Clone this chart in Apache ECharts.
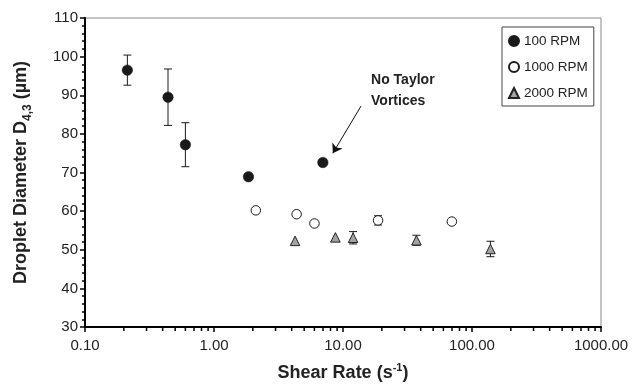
<!DOCTYPE html>
<html><head><meta charset="utf-8">
<script src="https://cdn.jsdelivr.net/npm/echarts@6/dist/echarts.min.js"></script>
<style>html,body{margin:0;padding:0;background:#fff}#c{width:632px;height:389px}</style>
</head><body><div id="c"></div>
<script>
// ---- data ----
const seriesNames = ['100 RPM', '1000 RPM', '2000 RPM'];

const rpm100Shear = [0.213, 0.44, 0.60, 1.85, 6.98];
const rpm100Diam  = [96.5, 89.5, 77.2, 68.9, 72.6];
const rpm100Err   = [3.9, 7.3, 5.7, 0, 0];

const rpm1000Shear = [2.11, 4.37, 6.01, 18.7, 69.8];
const rpm1000Diam  = [60.2, 59.2, 56.8, 57.6, 57.3];
const rpm1000Err   = [0, 0, 0, 1.2, 0];

const rpm2000Shear = [4.25, 8.73, 11.97, 37.1, 139];
const rpm2000Diam  = [52.3, 53.2, 53.1, 52.45, 50.2];
const rpm2000Err   = [0, 0, 1.6, 1.3, 2.0];

const xMin = 0.1, xMax = 1000;
const yMin = 30, yMax = 110, yInterval = 10;
const xMinorTickValues = [0.2,0.3,0.4,0.5,0.6,0.7,0.8,0.9,2,3,4,5,6,7,8,9,20,30,40,50,60,70,80,90,200,300,400,500,600,700,800,900];

const annotationText = 'No Taylor\nVortices';
const arrowFrom = [13.8, 87.2];
const arrowTo = [8.34, 75.0];
const annotationAnchor = [16.5, 91.2];

// ---- helpers ----
const FONT = 'Liberation Sans, Arial, Helvetica, sans-serif';
function pts(xs, ys) { return xs.map((x, i) => [x, ys[i]]); }
function errPts(xs, ys, es) { return xs.map((x, i) => [x, ys[i], es[i]]); }

function errRender(params, api) {
  const x = api.value(0), y = api.value(1), e = api.value(2);
  if (!e) return { type: 'group', children: [] };
  const t = api.coord([x, y + e]), b = api.coord([x, y - e]);
  const w = 4;
  const st = { stroke: '#1a1a1a', lineWidth: 1 };
  return { type: 'group', children: [
    { type: 'line', shape: { x1: t[0], y1: t[1], x2: b[0], y2: b[1] }, style: st },
    { type: 'line', shape: { x1: t[0] - w, y1: t[1], x2: t[0] + w, y2: t[1] }, style: st },
    { type: 'line', shape: { x1: b[0] - w, y1: b[1], x2: b[0] + w, y2: b[1] }, style: st }
  ]};
}
function minorTickRender(params, api) {
  const p = api.coord([api.value(0), yMin]);
  return { type: 'line', shape: { x1: p[0], y1: p[1], x2: p[0], y2: p[1] + 4 },
           style: { stroke: '#000', lineWidth: 1.5 } };
}

const chart = echarts.init(document.getElementById('c'), null, { renderer: 'canvas' });
chart.setOption({
  animation: false,
  backgroundColor: '#fff',
  textStyle: { fontFamily: FONT },
  grid: { left: 83, right: 31, top: 18, bottom: 61, show: true, borderColor: '#888', borderWidth: 1, backgroundColor: 'transparent' },
  legend: {
    data: seriesNames,
    orient: 'vertical',
    left: 502, top: 27,
    padding: [7, 6, 6, 6],
    itemGap: 12,
    itemWidth: 10, itemHeight: 10,
    borderColor: '#444', borderWidth: 1,
    textStyle: { fontSize: 13.5, color: '#222', fontFamily: FONT },
    selectedMode: false
  },
  xAxis: {
    type: 'log', logBase: 10, min: xMin, max: xMax,
    name: 'Shear Rate (s{sup|-1})',
    nameLocation: 'middle', nameGap: 35,
    nameTextStyle: {
      fontSize: 18, fontWeight: 'bold', color: '#222', fontFamily: FONT, lineHeight: 22,
      rich: { sup: { fontSize: 11, fontWeight: 'bold', color: '#222', verticalAlign: 'top', lineHeight: 22, fontFamily: FONT } }
    },
    axisLine: { show: true, onZero: false, lineStyle: { color: '#000', width: 2 } },
    axisTick: { show: true, length: 5, lineStyle: { color: '#000', width: 1.5 } },
    axisLabel: { fontSize: 15, color: '#222', margin: 11, formatter: v => Number(v).toFixed(2) },
    splitLine: { show: false }
  },
  yAxis: {
    type: 'value', min: yMin, max: yMax, interval: yInterval,
    name: 'Droplet Diameter D{sub|4,3} (µm)',
    nameLocation: 'middle', nameRotate: 90, nameGap: 51,
    nameTextStyle: {
      fontSize: 18, fontWeight: 'bold', color: '#222', fontFamily: FONT, lineHeight: 26,
      rich: { sub: { fontSize: 12, fontWeight: 'bold', color: '#222', verticalAlign: 'bottom', lineHeight: 26, fontFamily: FONT } }
    },
    axisLine: { show: true, onZero: false, lineStyle: { color: '#000', width: 2 } },
    axisTick: { show: true, length: 5, lineStyle: { color: '#000', width: 1.5 } },
    minorTick: { show: true, splitNumber: 5, length: 3, lineStyle: { color: '#000', width: 1.5 } },
    axisLabel: { fontSize: 15, color: '#222', margin: 7 },
    splitLine: { show: false }
  },
  series: [
    { type: 'custom', name: 'xminor', renderItem: minorTickRender, data: xMinorTickValues.map(v => [v, yMin]), clip: false, silent: true, z: 1 },
    { type: 'custom', name: 'err100', renderItem: errRender, data: errPts(rpm100Shear, rpm100Diam, rpm100Err), silent: true, z: 2 },
    { type: 'custom', name: 'err1000', renderItem: errRender, data: errPts(rpm1000Shear, rpm1000Diam, rpm1000Err), silent: true, z: 2 },
    { type: 'custom', name: 'err2000', renderItem: errRender, data: errPts(rpm2000Shear, rpm2000Diam, rpm2000Err), silent: true, z: 2 },
    {
      type: 'scatter', name: seriesNames[0], data: pts(rpm100Shear, rpm100Diam),
      symbol: 'circle', symbolSize: 10.5, z: 5,
      itemStyle: { color: '#1a1a1a', borderColor: '#1a1a1a', borderWidth: 0.5, opacity: 1 },
      markLine: {
        silent: true, animation: false,
        symbol: ['none', 'arrow'], symbolSize: 9,
        label: { show: false },
        lineStyle: { color: '#111', width: 1, type: 'solid' },
        itemStyle: { color: '#111' },
        data: [[ { coord: arrowFrom }, { coord: arrowTo } ]]
      },
      markPoint: {
        silent: true, animation: false,
        symbol: 'circle', symbolSize: 0,
        label: { show: true, position: 'right', distance: 0, formatter: annotationText,
                 fontSize: 14, fontWeight: 'bold', color: '#222', lineHeight: 21, align: 'left', fontFamily: FONT },
        data: [{ coord: annotationAnchor }]
      }
    },
    {
      type: 'scatter', name: seriesNames[1], data: pts(rpm1000Shear, rpm1000Diam),
      symbol: 'circle', symbolSize: 9.5, z: 5,
      itemStyle: { color: '#fff', borderColor: '#1a1a1a', borderWidth: 1, opacity: 1 }
    },
    {
      type: 'scatter', name: seriesNames[2], data: pts(rpm2000Shear, rpm2000Diam),
      symbol: 'triangle', symbolSize: 9.5, z: 5,
      itemStyle: { color: '#a3a3a3', borderColor: '#222', borderWidth: 1, opacity: 1 }
    }
  ]
});
</script>
</body></html>
